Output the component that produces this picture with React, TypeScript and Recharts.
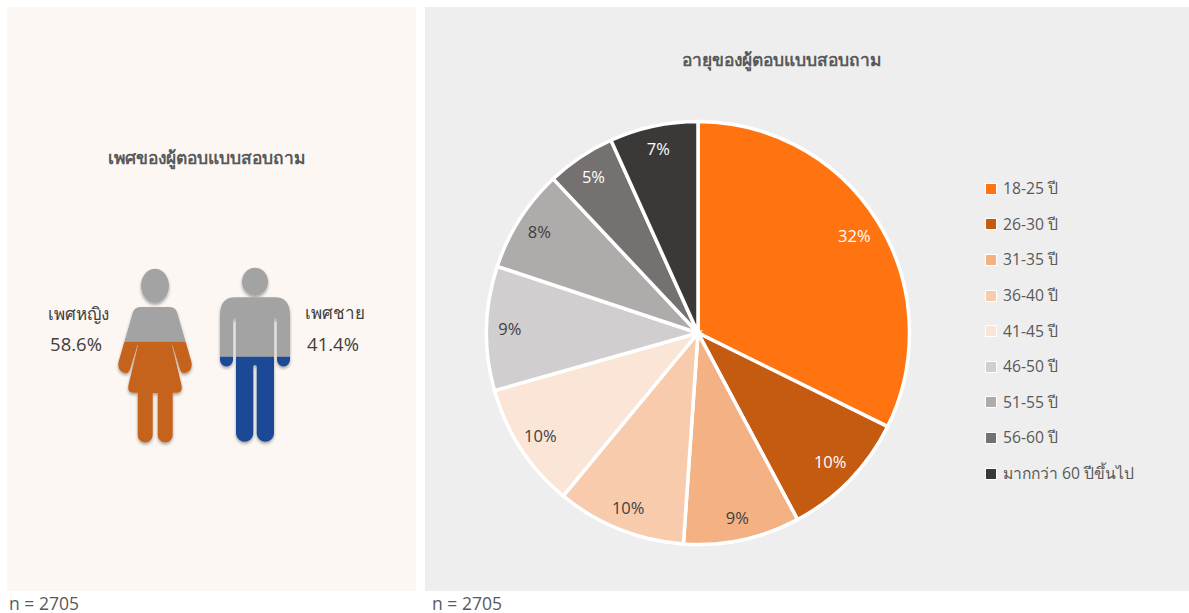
import React from "react";
import { PieChart, Pie, Cell, Legend } from "recharts";

const ageLabels = ["18-25 ปี", "26-30 ปี", "31-35 ปี", "36-40 ปี", "41-45 ปี", "46-50 ปี", "51-55 ปี", "56-60 ปี", "มากกว่า 60 ปีขึ้นไป"];
const ageValues = [32.3, 9.9, 8.9, 9.9, 9.61, 9.49, 7.9, 5.25, 6.75];
const ageColors = ["#FF7410", "#C55A11", "#F4B183", "#F8CBAD", "#FBE5D6", "#D0CECE", "#AFABAB", "#767171", "#3B3838"];
const labelColors = ["#ffffff", "#ffffff", "#404040", "#404040", "#404040", "#404040", "#404040", "#ffffff", "#ffffff"];
const genderLabels = ["เพศหญิง", "เพศชาย"];
const genderValues = ["58.6%", "41.4%"];
const titles = ["เพศของผู้ตอบแบบสอบถาม", "อายุของผู้ตอบแบบสอบถาม"];
const sampleNote = "n = 2705";

const ageData = ageLabels.map((name, i) => ({ name, value: ageValues[i] }));
const FONT = "'Open Sans', 'Noto Sans', sans-serif";
const RAD = Math.PI / 180;

const womanPath = "M141 307 L169 307 Q175 307 177 312 L191.5 362 Q193 371 185 373 Q181 374 179.5 368 L172.5 345 L172 345 L181.5 385 Q183 392.7 177 392.7 L172.7 392.7 L172.7 435 A7.5 7.5 0 0 1 157.7 435 L157.7 393 L152.7 393 L152.7 435 A7.5 7.5 0 0 1 137.7 435 L137.7 392.7 L133 392.7 Q127 392.7 128.5 385 L138 345 L137.5 345 L130.5 368 Q129 374 125 373 Q117 371 118.5 362 L133 312 Q135 307 141 307 Z";
const manPath = "M235 297.3 L275 297.3 Q290 297.3 290 315 L290 360 A6.5 6.5 0 0 1 277 360 L277 320 Q275.5 316 274 320 L274 434 A8.7 8.7 0 0 1 256.7 434 L256.7 366 Q255 364 253.3 366 L253.3 434 A8.7 8.7 0 0 1 236 434 L236 320 Q234.5 316 233 320 L233 360 A6.5 6.5 0 0 1 220 360 L220 315 Q220 297.3 235 297.3 Z";

function Figure({ id, path, head, split, color }: any) {
  const shape = (
    <>
      <ellipse cx={head[0]} cy={head[1]} rx={head[2]} ry={head[3]} />
      <path d={path} />
    </>
  );
  return (
    <g filter="url(#iconShadow)">
      <clipPath id={id + "Top"}><rect x={100} y={250} width={200} height={split - 250} /></clipPath>
      <clipPath id={id + "Bottom"}><rect x={100} y={split} width={200} height={210} /></clipPath>
      <g fill="#A3A3A3" clipPath={`url(#${id}Top)`}>{shape}</g>
      <g fill={color} clipPath={`url(#${id}Bottom)`}>{shape}</g>
    </g>
  );
}

function text(left: number, top: number, content: string, size: number, color = "#595959", bold = false) {
  return (
    <div style={{ position: "absolute", left, top, transform: "translate(-50%,-50%)", fontSize: size, color, fontWeight: bold ? 700 : 400, whiteSpace: "nowrap", lineHeight: 1 }}>
      {content}
    </div>
  );
}

const renderLabel = (p: any) => {
  const r = p.outerRadius * (p.index < 2 ? 0.87 : 0.89);
  const x = p.cx + r * Math.cos(-p.midAngle * RAD);
  const y = p.cy + r * Math.sin(-p.midAngle * RAD);
  return (
    <text x={x} y={y} fill={labelColors[p.index]} textAnchor="middle" dominantBaseline="central" fontSize={16.5} fontFamily={FONT}>
      {Math.round(p.value) + "%"}
    </text>
  );
};

const renderLegend = (props: any) => (
  <div>
    {props.payload.map((e: any, i: number) => (
      <div key={i} style={{ height: 35.6, display: "flex", alignItems: "center", fontSize: 15.7, color: "#595959", fontFamily: FONT, whiteSpace: "nowrap" }}>
        <span style={{ width: 10, height: 10, background: ageColors[i], border: "1.5px solid #fff", marginRight: 6, flex: "none" }} />
        {e.value}
      </div>
    ))}
  </div>
);

export default function App() {
  return (
    <div style={{ position: "absolute", left: 0, top: 0, width: 1189, height: 613, overflow: "hidden", background: "#fff", fontFamily: FONT }}>
      <div style={{ position: "absolute", left: 7, top: 7, width: 409, height: 584, background: "#FCF7F3" }} />
      <div style={{ position: "absolute", left: 425, top: 7, width: 764, height: 584, background: "#EEEEEE" }} />

      {text(206, 158, titles[0], 17.4, "#595959", true)}
      {text(781, 60, titles[1], 17.4, "#595959", true)}

      <svg width={1189} height={613} style={{ position: "absolute", left: 0, top: 0 }}>
        <defs>
          <filter id="iconShadow" x="-20%" y="-20%" width="140%" height="140%">
            <feDropShadow dx="0" dy="2" stdDeviation="1.6" floodColor="#000" floodOpacity="0.35" />
          </filter>
        </defs>
        <Figure id="woman" path={womanPath} head={[155, 285.7, 14, 17]} split={341.7} color="#C5641F" />
        <Figure id="man" path={manPath} head={[255, 281.7, 13, 14]} split={356.7} color="#1C4A96" />
      </svg>

      {text(78, 313, genderLabels[0], 17, "#404040")}
      {text(76, 344, genderValues[0], 18.5, "#404040")}
      {text(335, 312, genderLabels[1], 17, "#404040")}
      {text(333, 344, genderValues[1], 18.5, "#404040")}

      <div style={{ position: "absolute", left: 425, top: 7 }}>
        <PieChart width={764} height={584} margin={{ top: 0, right: 0, bottom: 0, left: 0 }}>
          <Pie data={ageData} dataKey="value" nameKey="name" cx={273} cy={326} outerRadius={211.5} innerRadius={0} startAngle={90} endAngle={-270} stroke="#fff" strokeWidth={3.5} label={renderLabel} labelLine={false} isAnimationActive={false}>
            {ageData.map((d, i) => <Cell key={d.name} fill={ageColors[i]} />)}
          </Pie>
          <Legend layout="vertical" align="right" verticalAlign="middle" content={renderLegend} wrapperStyle={{ left: 560, top: 164, width: 200, right: "auto" }} />
        </PieChart>
      </div>

      {text(44, 604, sampleNote, 17.5, "#595959")}
      {text(467, 604, sampleNote, 17.5, "#595959")}
    </div>
  );
}
